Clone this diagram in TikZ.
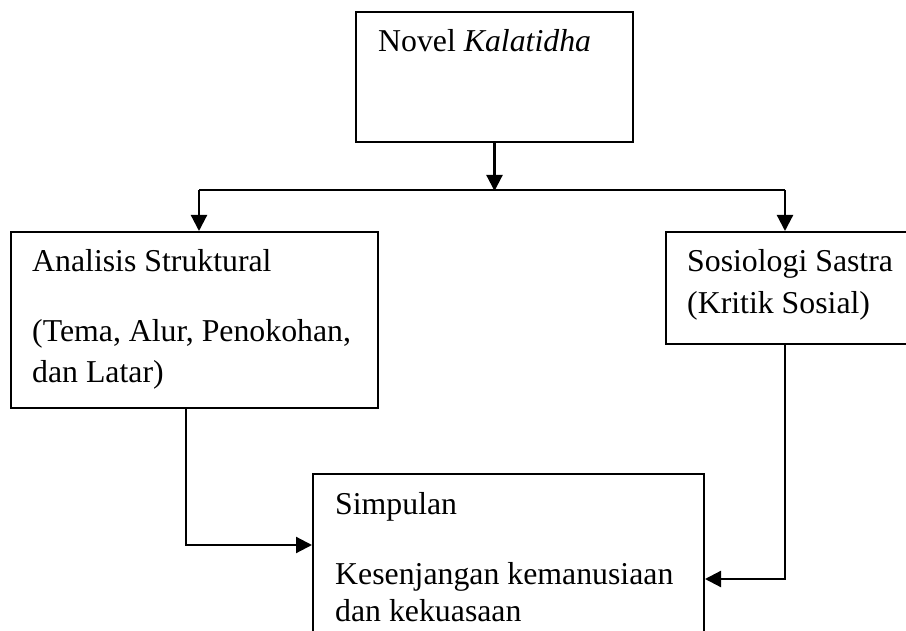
\documentclass[tikz,border=0pt]{standalone}
\usepackage{fontspec}
\setmainfont{Liberation Serif}
\usetikzlibrary{calc,arrows.meta}
\tikzset{kotak/.style={draw,line width=2pt,rectangle,inner sep=0pt},
  teks/.style={anchor=base west,inner sep=0pt,font=\fontsize{31.8}{38}\selectfont},
  garis/.style={line width=2.2pt},
  panah/.style={garis,-{Triangle[length=16pt,width=16pt]}}}

\begin{document}
\begin{tikzpicture}[x=1pt,y=-1pt]
\useasboundingbox (0,0) rectangle (906,631);
\node[kotak,minimum width=277pt,minimum height=130pt] (novel) at (494.5,77) {};
\node[kotak,minimum width=367pt,minimum height=176pt] (analisis) at (194.5,320) {};
\node[kotak,minimum width=260pt,minimum height=112pt] (sosio) at (796,288) {};
\node[kotak,minimum width=391pt,minimum height=190pt] (simpulan) at (508.5,569) {};
% teks
\node[teks] (tNovel) at (378,52) {Novel \textit{Kalatidha}};
\node[teks] (tAnalisis1) at (32,272) {Analisis Struktural};
\node[teks] (tAnalisis2) at (32,342) {(Tema, Alur, Penokohan,};
\node[teks] (tAnalisis3) at (32,383) {dan Latar)};
\node[teks] (tSosio1) at (687,272) {Sosiologi Sastra};
\node[teks] (tSosio2) at (687,314) {(Kritik Sosial)};
\node[teks] (tSimpulan1) at (335,514) {Simpulan};
\node[teks] (tSimpulan2) at (335,584) {Kesenjangan kemanusiaan};
\node[teks] (tSimpulan3) at (335,621) {dan kekuasaan};
% penghubung
\coordinate (cabang) at ($(novel.south)+(0,48)$);
\coordinate (kiri) at (199,190);
\coordinate (kanan) at (785,190);
\draw[panah] (novel.south) -- (cabang);
\draw[garis] (kiri) -- (kanan);
\draw[panah] (kiri) -- (kiri |- analisis.north);
\draw[panah] (kanan) -- (kanan |- sosio.north);
\coordinate (turunA) at ($(analisis.south west)+(176,0)$);
\coordinate (turunS) at ($(sosio.south west)+(120,0)$);
\draw[panah] (turunA) |- ($(simpulan.north west)+(0,72)$);
\draw[panah] (turunS) |- ($(simpulan.north east)+(0,106)$);
\end{tikzpicture}
\end{document}
